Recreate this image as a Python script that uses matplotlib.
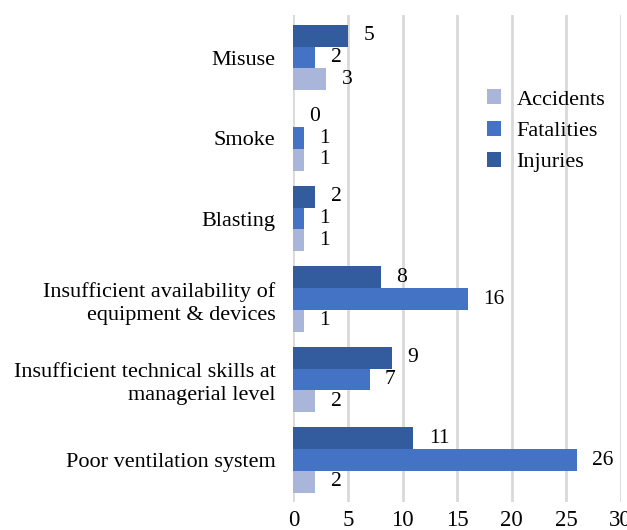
import numpy as np
import matplotlib.pyplot as plt

plt.rcParams['font.family'] = ['Liberation Serif', 'DejaVu Serif']

categories = ["Poor ventilation system",
              "Insufficient technical skills at\nmanagerial level",
              "Insufficient availability of\nequipment & devices",
              "Blasting", "Smoke", "Misuse"]
accidents = [2, 2, 1, 1, 1, 3]
fatalities = [26, 7, 16, 1, 1, 2]
injuries = [11, 9, 8, 2, 0, 5]

c_acc = "#A9B6DA"
c_fat = "#4472C4"
c_inj = "#335C9E"

fig = plt.figure(figsize=(6.27, 5.30), dpi=100)
ax = fig.add_axes([0.468, 0.053, 0.522, 0.919])

y = np.arange(len(categories))
h = 0.27
series = [(accidents, c_acc, "Accidents", -h),
          (fatalities, c_fat, "Fatalities", 0),
          (injuries, c_inj, "Injuries", h)]
for vals, col, lab, off in series:
    bars = ax.barh(y + off, vals, height=h, color=col, label=lab, zorder=2)
    for b, v in zip(bars, vals):
        ax.annotate(str(v), (v, b.get_y() + b.get_height() / 2),
                    xytext=(11, 0), textcoords="offset points",
                    ha="left", va="center", fontsize=15.5)

ax.set_xlim(0, 30)
ax.set_ylim(-0.52, 5.53)
ax.set_xticks(range(0, 31, 5))
ax.set_yticks(y)
ax.set_yticklabels(categories, ha="right", linespacing=1.3)
ax.tick_params(axis="both", length=0)
ax.tick_params(axis="x", labelsize=16.5, pad=6)
ax.tick_params(axis="y", labelsize=16, pad=13)
ax.grid(axis="x", color="#D9D9D9", linewidth=2, zorder=0)
ax.set_axisbelow(True)
for s in ax.spines.values():
    s.set_visible(False)

handles, labels = ax.get_legend_handles_labels()
ax.legend(handles, labels, loc="upper left", bbox_to_anchor=(0.563, 0.865),
          frameon=False, fontsize=16, handlelength=0.65, handleheight=0.65,
          labelspacing=0.5, handletextpad=0.7, borderaxespad=0)

fig.savefig("out.png", dpi=100)
